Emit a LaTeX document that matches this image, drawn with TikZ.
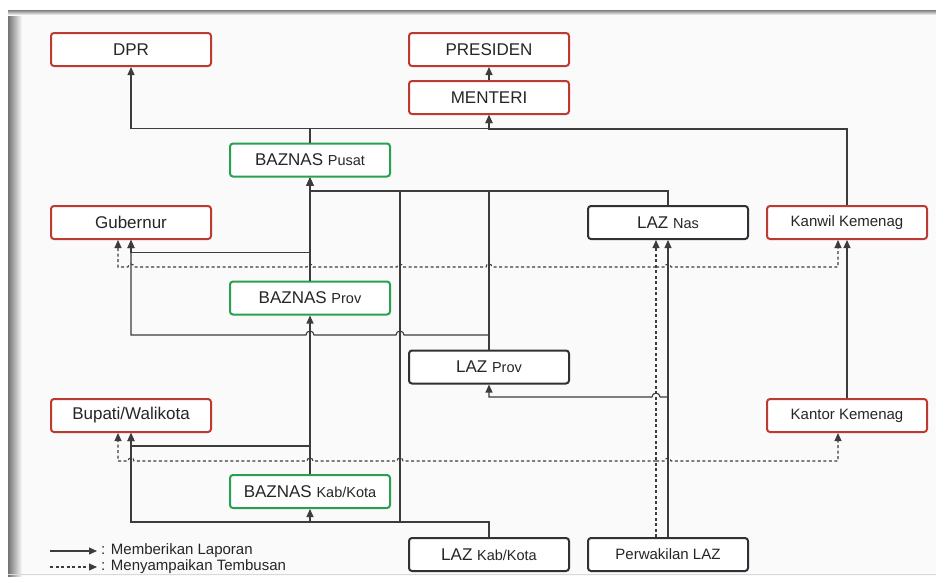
\documentclass[tikz,border=0pt]{standalone}
\usepackage{fontspec}
\setmainfont{Liberation Sans}
\usetikzlibrary{arrows.meta}
\definecolor{boxred}{RGB}{190,58,48}
\definecolor{boxgreen}{RGB}{40,160,80}
\definecolor{boxdark}{RGB}{48,48,54}
\definecolor{garis}{RGB}{60,60,60}
\newcommand{\bigtxt}{\fontsize{17}{20}\selectfont}
\newcommand{\mdtxt}{\fontsize{15}{18}\selectfont}
\newcommand{\smtxt}{\fontsize{14.5}{17}\selectfont}

\begin{document}
\begin{tikzpicture}[x=1pt,y=-1pt,
	kotak/.style={draw, rounded corners=3pt, line width=2pt, fill=white, text=black!85,
		minimum width=160pt, minimum height=33pt, inner sep=0pt, font=\bigtxt},
	merah/.style={kotak, draw=boxred},
	hijau/.style={kotak, draw=boxgreen},
	hitam/.style={kotak, draw=boxdark},
	lapor/.style={line width=1.1pt, draw=garis, -{Triangle[length=8pt,width=7pt]}},
	tembusan/.style={lapor, dash pattern=on 3pt off 2.5pt},
	ket/.style={anchor=west, inner sep=0pt, text=black!85, font=\mdtxt}]
			%%%%% FRAME %%%%%
			\useasboundingbox (0,0) rectangle (936,576);
			\fill[white] (0,0) rectangle (936,576);
			\fill[black!2] (8,10) rectangle (936,576);
			\shade[left color=black!55, right color=black!2] (8,10) rectangle (22,576);
			\shade[top color=black!50, bottom color=black!2] (8,10) rectangle (936,15);
			\draw[black!15] (8,574.5) -- (936,574.5);
			
			%%%%% KOTAK %%%%%
			\node[merah] (dpr) at (131, 49.5) {DPR};
			\node[merah] (presiden) at (489, 49.5) {PRESIDEN};
			\node[merah] (menteri) at (489, 97.5) {MENTERI};
			\node[hijau] (bzpusat) at (310, 160) {BAZNAS {\smtxt Pusat}};
			\node[merah] (gubernur) at (131, 222.5) {Gubernur};
			\node[hitam] (laznas) at (668, 222.5) {LAZ {\smtxt Nas}};
			\node[merah, font=\mdtxt] (kanwil) at (847, 222.5) {Kanwil Kemenag};
			\node[hijau] (bzprov) at (310, 298) {BAZNAS {\smtxt Prov}};
			\node[hitam] (lazprov) at (489, 367) {LAZ {\smtxt Prov}};
			\node[merah] (bupati) at (131, 415.5) {Bupati/Walikota};
			\node[merah, font=\mdtxt] (kantor) at (847, 415.5) {Kantor Kemenag};
			\node[hijau] (bzkab) at (310, 491.5) {BAZNAS {\smtxt Kab/Kota}};
			\node[hitam] (lazkab) at (489, 554.5) {LAZ {\smtxt Kab/Kota}};
			\node[hitam, font=\mdtxt] (perwakilan) at (668, 554.5) {Perwakilan LAZ};
			
			%%%%% LAPORAN %%%%%
			\draw[lapor] (menteri.north) -- (presiden.south);
			\draw[lapor] (bzpusat.north) -- ++(0,-14) -| (dpr.south);
			\draw[lapor] (bzpusat.north) -- ++(0,-14) -| (menteri.south);
			\draw[lapor] (kanwil.north) -- ++(0,-76) -| (menteri.south);
			\draw[lapor] (laznas.north) -- ++(0,-14) -| (bzpusat.south);
			\draw[lapor] (bzprov.north) -- (bzpusat.south);
			\draw[lapor] (bzprov.north) -- ++(0,-28) -| (gubernur.south);
			\draw[lapor] (lazprov.north) -- ++(0,-159) -| (bzpusat.south);
			\draw[lapor] (lazprov.north) -- (489,335) -- (404,335) arc (0:-180:4)
				-- (314,335) arc (0:-180:4) -| (gubernur.south);
			\draw[lapor] (bzkab.north) -- (bzprov.south);
			\draw[lapor] (bzkab.north) -- ++(0,-28) -| (bupati.south);
			\draw[lapor] (lazkab.north) -- ++(0,-15) -| (bzkab.south);
			\draw[lapor] (lazkab.north) -- ++(0,-15) -| (bupati.south);
			\draw[lapor] (lazkab.north) -- ++(0,-15) -- (400,522) -- (400,191) -| (bzpusat.south);
			\draw[lapor] (perwakilan.north) -- (laznas.south);
			\draw[lapor] (kantor.north) -- (kanwil.south);
			\draw[lapor] (perwakilan.north) -- (668,397) -- (660,397) arc (0:-180:4) -| (lazprov.south);
			
			%%%%% TEMBUSAN %%%%%
			\draw[tembusan] ([xshift=-12pt]perwakilan.north) -- ([xshift=-12pt]laznas.south);
			\coordinate (tbsprov) at (656,267);
			\coordinate (tbskab) at (656,461);
			\draw[tembusan] (tbsprov) -- (492,267) arc (0:-180:3) -- (403,267) arc (0:-180:3)
				-- (313,267) arc (0:-180:3) -- (134,267) arc (0:-180:3) -| ([xshift=-13pt]gubernur.south);
			\draw[tembusan] (tbsprov) -- (665,267) arc (180:360:3) -| ([xshift=-9pt]kanwil.south);
			\draw[tembusan] (tbskab) -- (403,461) arc (0:-180:3)
				-- (313,461) arc (0:-180:3) -- (134,461) arc (0:-180:3) -| ([xshift=-13pt]bupati.south);
			\draw[tembusan] (tbskab) -- (665,461) arc (180:360:3) -| ([xshift=-9pt]kantor.south);
			
			%%%%% KETERANGAN %%%%%
			\coordinate (ket1) at (50,551);
			\coordinate (ket2) at (50,567);
			\node[ket] (lblapor) at (101,551) {: Memberikan Laporan};
			\node[ket] (lbtembus) at (101,567) {: Menyampaikan Tembusan};
			\draw[lapor] (ket1) -- ([xshift=-4pt]lblapor.west);
			\draw[tembusan] (ket2) -- ([xshift=-4pt]lbtembus.west);
		\end{tikzpicture}
\end{document}
